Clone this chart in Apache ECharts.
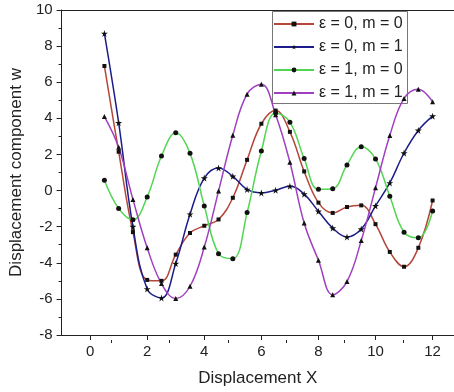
<!DOCTYPE html>
<html><head><meta charset="utf-8">
<script src="https://cdn.jsdelivr.net/npm/echarts@6/dist/echarts.min.js"></script>
<style>html,body{margin:0;padding:0;background:#fff}#c{width:454px;height:392px}</style>
</head><body><div id="c"></div>
<script>
// Sample positions along X
const xs = [0.5,1,1.5,2,2.5,3,3.5,4,4.5,5,5.5,6,6.5,7,7.5,8,8.5,9,9.5,10,10.5,11,11.5,12];

// Displacement component w for each case
const w_e0_m0 = [6.9,2.15,-2.3,-4.95,-5.0,-3.55,-2.35,-1.95,-1.6,-0.4,1.7,3.7,4.43,3.25,1.06,-0.67,-1.24,-0.91,-0.82,-1.86,-3.4,-4.22,-3.17,-0.55];
const w_e0_m1 = [8.7,3.75,-2.0,-5.45,-5.95,-4.04,-1.31,0.69,1.25,0.79,0.06,-0.13,0.02,0.24,-0.2,-1.15,-2.08,-2.57,-2.13,-0.85,0.42,2.08,3.33,4.12];
const w_e1_m0 = [0.57,-0.99,-1.62,-0.35,1.91,3.2,2.06,-0.85,-3.5,-3.77,-1.22,2.19,4.3,3.79,1.77,0.07,0.1,1.42,2.43,1.75,-0.31,-2.31,-2.62,-1.13];
const w_e1_m1 = [4.1,2.4,-0.49,-3.17,-5.15,-5.98,-5.3,-3.13,-0.03,3.06,5.34,5.89,4.2,1.57,-1.8,-3.86,-5.77,-5.04,-2.77,0.15,3.05,5.1,5.61,4.92];

const names = ['\u03b5 = 0, m = 0', '\u03b5 = 0, m = 1', '\u03b5 = 1, m = 0', '\u03b5 = 1, m = 1'];
const xLabels = [0,2,4,6,8,10,12];
const xMinor = [1,3,5,7,9,11];

const FONT = 'Liberation Sans, Arial, sans-serif';
const STAR = 'path://M50,0 L61,35 L98,35 L68,57 L79,91 L50,70 L21,91 L32,57 L2,35 L39,35 Z';

function pairs(ys) { return xs.map((x, i) => [x, ys[i]]); }

function curve(name, ys, color, symbol, size) {
  return {
    name, type: 'line', data: pairs(ys), smooth: 0.4,
    xAxisIndex: 0, yAxisIndex: 0,
    symbol, symbolSize: size, showAllSymbol: true,
    lineStyle: { color, width: 1.5 },
    itemStyle: { color: '#111' },
    emphasis: { disabled: true },
    animation: false
  };
}

const gridBox = { left: 53, right: 0, top: 10, bottom: 52 };

const chart = echarts.init(document.getElementById('c'), null, { renderer: 'canvas' });
chart.setOption({
  backgroundColor: '#fff',
  animation: false,
  textStyle: { fontFamily: FONT },
  grid: [Object.assign({}, gridBox), Object.assign({}, gridBox)],
  // legend frame
  graphic: [{
    type: 'rect', z: 3, silent: true,
    shape: { x: 272.5, y: 11.5, width: 135, height: 92 },
    style: { fill: '#fff', stroke: '#777', lineWidth: 1 }
  }],
  xAxis: [
    {
      gridIndex: 0, type: 'value', position: 'bottom', min: -1, max: 12.75,
      name: 'Displacement X', nameLocation: 'middle', nameGap: 35,
      nameTextStyle: { fontSize: 17, color: '#222', fontFamily: FONT },
      axisLine: { show: true, onZero: false, lineStyle: { color: '#222', width: 1 } },
      axisTick: { show: true, customValues: xLabels, length: 5, lineStyle: { color: '#222' } },
      axisLabel: { customValues: xLabels, fontSize: 15, color: '#222', margin: 9, fontFamily: FONT },
      splitLine: { show: false }
    },
    {
      gridIndex: 0, type: 'value', position: 'top', min: -1, max: 12.75,
      axisLine: { show: true, onZero: false, lineStyle: { color: '#222', width: 1 } },
      axisTick: { show: false }, axisLabel: { show: false }, splitLine: { show: false }
    },
    {
      gridIndex: 1, type: 'value', position: 'bottom', min: -1, max: 12.75,
      axisLine: { show: false, onZero: false },
      axisTick: { show: true, customValues: xMinor, length: 3, lineStyle: { color: '#222' } },
      axisLabel: { show: false }, splitLine: { show: false }
    }
  ],
  yAxis: [
    {
      gridIndex: 0, type: 'value', min: -8, max: 10, interval: 2,
      name: 'Displacement component w', nameLocation: 'middle', nameGap: 31,
      nameTextStyle: { fontSize: 17, color: '#222', fontFamily: FONT },
      axisLine: { show: true, onZero: false, lineStyle: { color: '#222', width: 1 } },
      axisTick: { show: true, length: 5, lineStyle: { color: '#222' } },
      minorTick: { show: true, splitNumber: 2, length: 3, lineStyle: { color: '#222' } },
      axisLabel: { fontSize: 15, color: '#222', margin: 9, fontFamily: FONT },
      splitLine: { show: false }
    },
    {
      gridIndex: 1, type: 'value', min: -8, max: 10, show: false
    }
  ],
  legend: {
    orient: 'vertical', left: 272, top: 11, z: 4,
    padding: [4, 3, 4, 1], itemGap: 5, itemWidth: 40, itemHeight: 6,
    textStyle: { fontSize: 16, color: '#222', fontFamily: FONT, lineHeight: 18 },
    data: names
  },
  series: [
    curve(names[0], w_e0_m0, '#b5463a', 'rect', 4),
    curve(names[1], w_e0_m1, '#1c1c8a', STAR, 7),
    curve(names[2], w_e1_m0, '#52d652', 'circle', 5),
    curve(names[3], w_e1_m1, '#a040c0', 'triangle', 5)
  ]
});
</script>
</body></html>
